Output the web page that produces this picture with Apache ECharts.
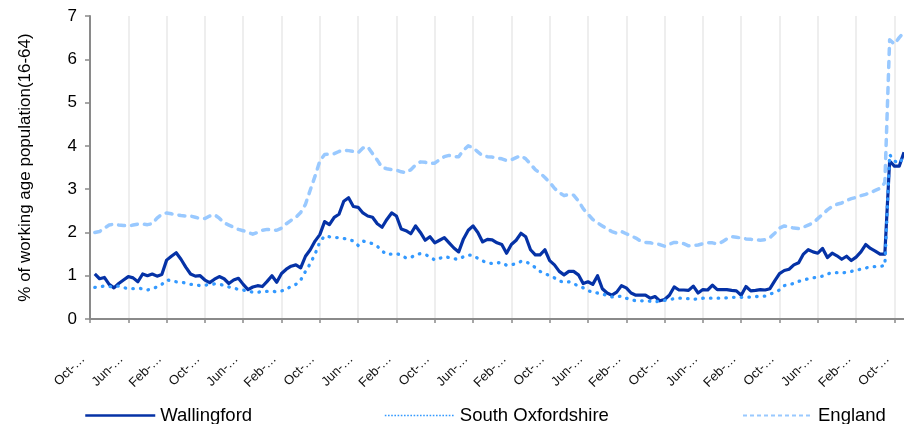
<!DOCTYPE html>
<html>
<head>
<meta charset="utf-8">
<script src="https://cdn.jsdelivr.net/npm/echarts@6/dist/echarts.min.js"></script>
<style>
html,body{margin:0;padding:0;background:#fff;}
#chart{width:904px;height:424px;}
</style>
</head>
<body>
<div id="chart"></div>
<script>
// Month categories (first category is the axis origin, no data there)
const months = [
"Oct-06","Nov-06","Dec-06",
"Jan-07","Feb-07","Mar-07","Apr-07","May-07","Jun-07","Jul-07","Aug-07","Sep-07","Oct-07","Nov-07","Dec-07",
"Jan-08","Feb-08","Mar-08","Apr-08","May-08","Jun-08","Jul-08","Aug-08","Sep-08","Oct-08","Nov-08","Dec-08",
"Jan-09","Feb-09","Mar-09","Apr-09","May-09","Jun-09","Jul-09","Aug-09","Sep-09","Oct-09","Nov-09","Dec-09",
"Jan-10","Feb-10","Mar-10","Apr-10","May-10","Jun-10","Jul-10","Aug-10","Sep-10","Oct-10","Nov-10","Dec-10",
"Jan-11","Feb-11","Mar-11","Apr-11","May-11","Jun-11","Jul-11","Aug-11","Sep-11","Oct-11","Nov-11","Dec-11",
"Jan-12","Feb-12","Mar-12","Apr-12","May-12","Jun-12","Jul-12","Aug-12","Sep-12","Oct-12","Nov-12","Dec-12",
"Jan-13","Feb-13","Mar-13","Apr-13","May-13","Jun-13","Jul-13","Aug-13","Sep-13","Oct-13","Nov-13","Dec-13",
"Jan-14","Feb-14","Mar-14","Apr-14","May-14","Jun-14","Jul-14","Aug-14","Sep-14","Oct-14","Nov-14","Dec-14",
"Jan-15","Feb-15","Mar-15","Apr-15","May-15","Jun-15","Jul-15","Aug-15","Sep-15","Oct-15","Nov-15","Dec-15",
"Jan-16","Feb-16","Mar-16","Apr-16","May-16","Jun-16","Jul-16","Aug-16","Sep-16","Oct-16","Nov-16","Dec-16",
"Jan-17","Feb-17","Mar-17","Apr-17","May-17","Jun-17","Jul-17","Aug-17","Sep-17","Oct-17","Nov-17","Dec-17",
"Jan-18","Feb-18","Mar-18","Apr-18","May-18","Jun-18","Jul-18","Aug-18","Sep-18","Oct-18","Nov-18","Dec-18",
"Jan-19","Feb-19","Mar-19","Apr-19","May-19","Jun-19","Jul-19","Aug-19","Sep-19","Oct-19","Nov-19","Dec-19",
"Jan-20","Feb-20","Mar-20","Apr-20","May-20","Jun-20","Jul-20","Aug-20","Sep-20","Oct-20","Nov-20","Dec-20"
];

const wallingford = [null,
1.04,0.93,0.96,0.80,0.72,0.82,0.90,0.98,0.95,0.86,
1.04,1.00,1.04,0.99,1.03,1.36,1.45,1.53,1.38,1.20,
1.04,0.99,1.00,0.90,0.84,0.92,0.98,0.93,0.82,0.90,
0.94,0.80,0.68,0.74,0.77,0.75,0.87,1.00,0.85,1.05,
1.15,1.22,1.25,1.18,1.45,1.60,1.80,1.95,2.25,2.18,
2.35,2.42,2.72,2.80,2.60,2.58,2.45,2.38,2.35,2.20,
2.12,2.30,2.45,2.38,2.08,2.04,1.97,2.15,2.00,1.82,
1.90,1.76,1.82,1.88,1.76,1.64,1.55,1.85,2.05,2.15,
2.00,1.78,1.84,1.83,1.76,1.72,1.52,1.72,1.82,1.98,
1.90,1.60,1.48,1.48,1.60,1.35,1.25,1.10,1.02,1.10,
1.10,1.02,0.82,0.86,0.80,1.00,0.70,0.60,0.55,0.62,
0.77,0.72,0.60,0.55,0.55,0.55,0.48,0.52,0.42,0.45,
0.55,0.74,0.67,0.67,0.66,0.76,0.60,0.68,0.67,0.78,
0.68,0.68,0.68,0.66,0.65,0.55,0.75,0.65,0.66,0.68,
0.67,0.70,0.88,1.05,1.12,1.15,1.25,1.30,1.50,1.60,
1.55,1.52,1.63,1.42,1.52,1.46,1.38,1.45,1.35,1.43,
1.55,1.72,1.63,1.57,1.50,1.50,3.65,3.53,3.53,3.85
];

const southOxfordshire = [null,
0.73,0.75,0.76,0.75,0.75,0.76,0.72,0.71,0.70,0.71,
0.70,0.67,0.70,0.74,0.80,0.90,0.89,0.86,0.85,0.83,
0.80,0.79,0.77,0.78,0.80,0.81,0.80,0.78,0.74,0.72,
0.68,0.67,0.64,0.62,0.62,0.63,0.64,0.64,0.63,0.65,
0.68,0.76,0.80,0.90,1.10,1.28,1.50,1.78,1.92,1.90,
1.88,1.88,1.86,1.84,1.80,1.70,1.80,1.77,1.74,1.68,
1.57,1.49,1.50,1.51,1.48,1.41,1.42,1.48,1.51,1.49,
1.44,1.36,1.40,1.44,1.42,1.39,1.38,1.44,1.48,1.47,
1.40,1.34,1.30,1.28,1.30,1.30,1.24,1.25,1.28,1.33,
1.33,1.26,1.19,1.10,1.05,1.00,0.95,0.88,0.85,0.86,
0.82,0.76,0.72,0.66,0.61,0.60,0.57,0.55,0.51,0.51,
0.53,0.48,0.45,0.42,0.42,0.42,0.41,0.40,0.41,0.43,
0.45,0.47,0.48,0.48,0.47,0.45,0.47,0.48,0.48,0.48,
0.48,0.48,0.49,0.50,0.50,0.50,0.50,0.51,0.52,0.52,
0.53,0.57,0.62,0.67,0.77,0.80,0.82,0.87,0.90,0.93,
0.95,0.97,0.99,1.04,1.07,1.07,1.06,1.08,1.10,1.13,
1.15,1.18,1.20,1.21,1.22,1.23,3.80,3.65,3.60,3.75
];

const england = [null,
2.00,2.02,2.10,2.17,2.19,2.17,2.16,2.15,2.17,2.19,
2.19,2.18,2.20,2.33,2.42,2.45,2.43,2.41,2.39,2.38,
2.38,2.35,2.32,2.32,2.38,2.41,2.33,2.22,2.17,2.12,
2.07,2.04,2.00,1.96,2.00,2.05,2.07,2.06,2.05,2.10,
2.20,2.28,2.35,2.46,2.65,2.98,3.30,3.65,3.80,3.81,
3.82,3.87,3.90,3.89,3.87,3.84,3.95,3.98,3.82,3.67,
3.50,3.47,3.45,3.44,3.40,3.38,3.45,3.56,3.63,3.62,
3.59,3.60,3.68,3.75,3.78,3.75,3.75,3.90,4.00,3.96,
3.86,3.77,3.75,3.74,3.72,3.70,3.66,3.68,3.73,3.77,
3.70,3.58,3.45,3.37,3.27,3.16,3.02,2.92,2.85,2.88,
2.86,2.73,2.55,2.42,2.30,2.22,2.15,2.08,2.02,1.98,
2.02,1.97,1.92,1.87,1.80,1.77,1.76,1.74,1.72,1.68,
1.73,1.77,1.77,1.74,1.69,1.70,1.71,1.74,1.76,1.76,
1.73,1.78,1.85,1.90,1.89,1.87,1.85,1.84,1.83,1.82,
1.83,1.88,1.98,2.10,2.15,2.12,2.10,2.09,2.12,2.17,
2.22,2.32,2.42,2.52,2.60,2.65,2.68,2.74,2.78,2.81,
2.85,2.88,2.92,2.97,3.02,3.15,6.45,6.35,6.50,6.63
];

const yTicks = [0,1,2,3,4,5,6,7];
const seriesNames = ["Wallingford","South Oxfordshire","England"];

const FONT = "'Liberation Sans', Arial, sans-serif";
const chart = echarts.init(document.getElementById('chart'), null, {renderer:'canvas'});

const legendBase = {
  orient:'horizontal', top:401, itemWidth:70, itemHeight:14, itemGap:10,
  textStyle:{fontFamily:FONT, fontSize:18.5, color:'#000'},
  itemStyle:{opacity:0, borderWidth:0},
  selectedMode:false
};

chart.setOption({
  animation:false,
  backgroundColor:'#ffffff',
  grid:{left:90, top:16, width:816, height:303, containLabel:false},
  xAxis:{
    type:'category', data:months, boundaryGap:false,
    axisLine:{show:true, lineStyle:{color:'#8a8a8a', width:2}},
    axisTick:{show:true, interval:7, length:4, lineStyle:{color:'#8a8a8a', width:1.5}},
    splitLine:{show:true, interval:7, lineStyle:{color:'#eeeeee', width:2}},
    axisLabel:{show:true, interval:7, rotate:45, margin:31, padding:[0,10,0,0],
      fontFamily:FONT, fontSize:13, color:'#111',
      formatter:function(v){ return v.split('-')[0] + '-\u2026'; }}
  },
  yAxis:{
    type:'value', min:yTicks[0], max:yTicks[yTicks.length-1], interval:1,
    name:'% of working age population(16-64)', nameLocation:'middle', nameGap:56, nameRotate:90,
    nameTextStyle:{fontFamily:FONT, fontSize:17, color:'#000'},
    axisLine:{show:true, lineStyle:{color:'#8a8a8a', width:2}},
    axisTick:{show:true, length:5, lineStyle:{color:'#8a8a8a', width:1.5}},
    splitLine:{show:false},
    axisLabel:{margin:13, fontFamily:FONT, fontSize:17, color:'#000'}
  },
  legend:[
    Object.assign({}, legendBase, {left:79, data:[seriesNames[0]], lineStyle:{width:2.5}}),
    Object.assign({}, legendBase, {left:379, data:[seriesNames[1]], lineStyle:{width:1.6, type:[1.6,1.6], cap:'butt'}}),
    Object.assign({}, legendBase, {left:737, data:[seriesNames[2]], lineStyle:{width:2, type:[4,3], cap:'butt'}})
  ],
  series:[
    {name:seriesNames[0], type:'line', data:wallingford, symbol:'none', connectNulls:false,
     lineStyle:{color:'#0532a6', width:3.2, join:'round'}, itemStyle:{color:'#0532a6'}, z:2},
    {name:seriesNames[1], type:'line', data:southOxfordshire, symbol:'none',
     lineStyle:{color:'#3399ff', width:3.3, type:[0.5,7.2], cap:'round', join:'round'}, itemStyle:{color:'#3399ff'}, z:3},
    {name:seriesNames[2], type:'line', data:england, symbol:'none',
     lineStyle:{color:'#99c9ff', width:3.5, type:[6,7], cap:'round', join:'round'}, itemStyle:{color:'#99c9ff'}, z:4}
  ]
});
</script>
</body>
</html>
